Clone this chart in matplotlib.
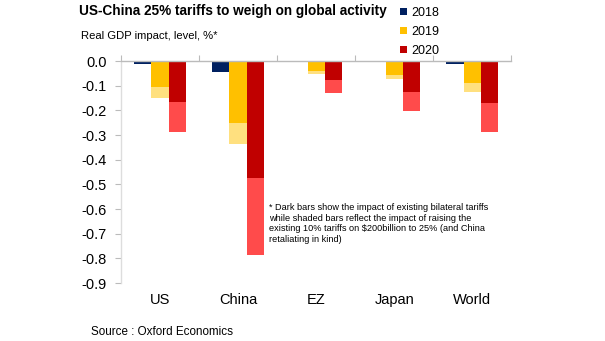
import matplotlib
matplotlib.use("Agg")
import matplotlib.pyplot as plt
import numpy as np

plt.rcParams['font.family'] = ['Liberation Sans', 'DejaVu Sans']

regions = ["US", "China", "EZ", "Japan", "World"]
years = ["2018", "2019", "2020"]

# impact of existing bilateral tariffs (dark bars)
existing_2018 = [-0.012, -0.043, -0.002, -0.003, -0.011]
existing_2019 = [-0.107, -0.252, -0.039, -0.058, -0.089]
existing_2020 = [-0.165, -0.475, -0.076, -0.126, -0.170]
# total impact after raising tariffs to 25% (shaded bars extend to here)
total_2019 = [-0.151, -0.337, -0.051, -0.072, -0.126]
total_2020 = [-0.289, -0.785, -0.128, -0.202, -0.287]

yticks = [0.0, -0.1, -0.2, -0.3, -0.4, -0.5, -0.6, -0.7, -0.8, -0.9]

navy = "#002060"
gold = "#FFC000"
gold_light = "#FFE07F"
red = "#C00000"
red_light = "#FF4B4B"

fig = plt.figure(figsize=(6.05, 3.41), dpi=100)
ax = fig.add_axes([0.2, 0.17, 0.645, 0.651])

x = np.arange(len(regions))
w = 0.22

ax.bar(x - w, existing_2018, w, color=navy, label=years[0])

ax.bar(x, existing_2019, w, color=gold, label=years[1])
ax.bar(x, np.array(total_2019) - np.array(existing_2019), w,
       bottom=existing_2019, color=gold_light)

ax.bar(x + w, existing_2020, w, color=red, label=years[2])
ax.bar(x + w, np.array(total_2020) - np.array(existing_2020), w,
       bottom=existing_2020, color=red_light)

ax.set_xlim(-0.5, len(regions) - 0.5)
ax.set_ylim(-0.9, 0.0)
ax.set_yticks(yticks)
ax.set_yticklabels([f"{v:.1f}" for v in yticks], fontsize=10.5)

# category labels sit below the plot area; boundary ticks on the zero line
ax.set_xticks(np.arange(len(regions) + 1) - 0.5)
ax.set_xticklabels([])
ax.tick_params(axis='x', direction='out', length=4, color="#BBBBBB",
               top=True, bottom=False, labeltop=False)
for i, r in enumerate(regions):
    ax.text(i, -0.97, r, ha='center', va='center', fontsize=10.5)

ax.tick_params(axis='y', direction='out', length=4, color="#BBBBBB", pad=6)

for s in ["right", "bottom"]:
    ax.spines[s].set_visible(False)
ax.spines["top"].set_color("#BBBBBB")
ax.spines["left"].set_color("#DDDDDD")
ax.spines["top"].set_linewidth(1.0)
ax.spines["left"].set_linewidth(1.0)

fig.text(0.131, 0.968, "US-China 25% tariffs to weigh on global activity",
         fontsize=9.8, fontweight='bold', ha='left', va='center')
fig.text(0.134, 0.894, "Real GDP impact, level, %*", fontsize=8.1,
         ha='left', va='center')

leg = fig.legend(loc='upper left', bbox_to_anchor=(0.643, 1.012), frameon=False,
                 fontsize=9, handlelength=0.5, handleheight=0.5,
                 handletextpad=0.35, labelspacing=0.55)

note = ("* Dark bars show the impact of existing bilateral tariffs\n"
        "while shaded bars reflect the impact of raising the\n"
        "existing 10% tariffs on $200billion to 25% (and China\n"
        "retaliating in kind)")
fig.text(0.444, 0.345, note, fontsize=6.6, ha='left', va='center',
         linespacing=1.22)

fig.text(0.15, 0.027, "Source : Oxford Economics", fontsize=8.4,
         ha='left', va='center')

fig.savefig("out.png", dpi=100)
